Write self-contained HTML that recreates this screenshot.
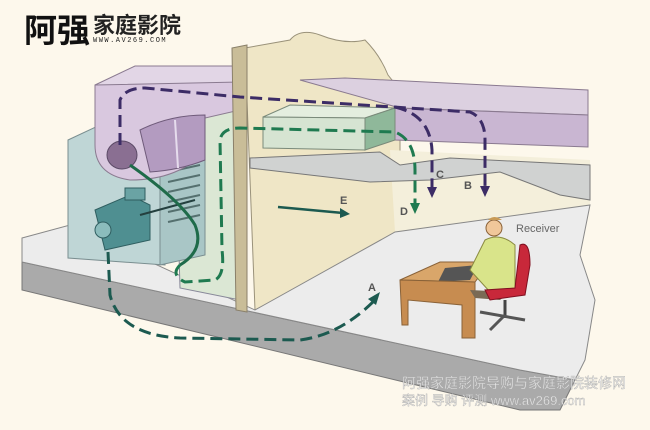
<!DOCTYPE html>
<html><head><meta charset="utf-8"><style>
html,body{margin:0;padding:0;background:#fdf8ec;}
svg{display:block}
</style></head><body>
<svg width="650" height="430" viewBox="0 0 650 430" xmlns="http://www.w3.org/2000/svg" font-family="Liberation Sans, sans-serif">
<rect width="650" height="430" fill="#fdf8ec"/>
<!-- back wall -->
<path d="M245,48 L290,40 Q300,28 320,35 Q345,45 365,40 Q380,55 388,75 L400,90 L400,235 L255,310 Z" fill="#efe6c6" stroke="#9a927a" stroke-width="1"/>
<path d="M390,150 L590,160 L590,205 L395,232 Z" fill="#f4efdb"/>
<!-- floor slab -->
<path d="M22,262 L520,370 L575,380 L560,410 L520,410 L22,290 Z" fill="#aaaaaa" stroke="#777" stroke-width="1"/>
<!-- floor top -->
<path d="M22,238 L70,225 L255,310 L395,232 L590,205 L580,255 L595,300 L585,360 L575,380 L520,370 L22,262 Z" fill="#ececec" stroke="#888" stroke-width="1"/>
<!-- ceiling shelf -->
<path d="M250,158 L380,152 L400,165 L450,158 L590,165 L590,200 L560,195 L500,172 L430,180 L370,182 L250,168 Z" fill="#d0d2d1" stroke="#777" stroke-width="1"/>
<!-- purple duct right -->
<path d="M300,80 L345,78 L588,90 L588,115 L400,108 Z" fill="#dcd0e0" stroke="#8a7a90"/>
<path d="M395,108 L588,115 L588,147 L395,140 Z" fill="#c9b6d2" stroke="#8a7a90"/>
<!-- green box -->
<path d="M263,117 L290,105 L395,108 L365,118 Z" fill="#e4eedf" stroke="#7a8a7a"/>
<path d="M263,117 L365,118 L365,150 L263,148 Z" fill="#d6e4d2" stroke="#7a8a7a"/>
<path d="M365,118 L395,108 L395,140 L365,150 Z" fill="#8fb89a" stroke="#7a8a7a"/>
<!-- green tall panel -->
<path d="M175,120 L240,110 L240,300 L180,288 Z" fill="#dbe7d4" stroke="#889"/>
<!-- blue box -->
<path d="M68,140 L100,125 L165,125 L165,265 L68,258 Z" fill="#bfd6d6" stroke="#7a8e90"/>
<path d="M160,150 L205,140 L205,255 L160,265 Z" fill="#a9c6c6" stroke="#7a8e90"/>
<g stroke="#55706f" stroke-width="2"><line x1="168" y1="172" x2="200" y2="165"/><line x1="168" y1="182" x2="200" y2="175"/><line x1="168" y1="192" x2="200" y2="185"/><line x1="168" y1="202" x2="200" y2="195"/><line x1="168" y1="212" x2="200" y2="205"/><line x1="168" y1="222" x2="200" y2="215"/></g>
<!-- purple duct left -->
<path d="M95,85 L135,66 L240,66 L240,82 L200,85 Z" fill="#e2d6e6" stroke="#8a7a90"/>
<path d="M95,85 L240,82 L240,110 L205,118 L205,150 Q180,180 130,180 Q95,175 95,145 Z" fill="#d9c8df" stroke="#8a7a90"/>
<ellipse cx="122" cy="155" rx="15" ry="14" fill="#8a6f92" stroke="#5b4a66"/>
<path d="M140,130 Q170,115 205,115 L205,160 Q180,170 150,172 Z" fill="#b39bc0" stroke="#6f5b7a"/>
<line x1="175" y1="120" x2="178" y2="168" stroke="#e6dced" stroke-width="2"/>
<!-- column -->
<path d="M232,48 L247,45 L247,312 L236,310 Z" fill="#c9bd98" stroke="#8a806a"/>
<!-- motor -->
<path d="M95,210 L130,195 L150,205 L150,240 L105,250 Z" fill="#4f8f91" stroke="#2f5e60"/>
<rect x="125" y="188" width="20" height="12" fill="#6aa3a4" stroke="#2f5e60"/>
<circle cx="103" cy="230" r="8" fill="#8bbcbc" stroke="#2f5e60"/>
<line x1="140" y1="215" x2="195" y2="200" stroke="#24403f" stroke-width="2"/>
<!-- solid green belt -->
<path d="M130,165 Q180,200 195,225 Q205,250 180,265" fill="none" stroke="#1f6b4a" stroke-width="3"/>
<!-- dashed paths -->
<path d="M180,265 Q170,275 185,282 L215,280 Q225,275 222,250 L220,140 Q222,128 240,128 L395,132 Q415,140 415,170 L415,205" fill="none" stroke="#1f7a50" stroke-width="3" stroke-dasharray="12,6"/>
<polygon points="410,203 420,203 415,214" fill="#1f7a50"/>
<path d="M120,145 L120,100 Q125,88 145,88 L240,97 L470,112 Q485,118 485,140 L485,188" fill="none" stroke="#3c2c66" stroke-width="3" stroke-dasharray="12,6"/>
<polygon points="480,186 490,186 485,197" fill="#3c2c66"/>
<path d="M395,107 Q430,115 432,150 L432,188" fill="none" stroke="#3c2c66" stroke-width="3" stroke-dasharray="12,6"/>
<polygon points="427,187 437,187 432,198" fill="#3c2c66"/>
<path d="M108,252 L110,295 Q120,335 180,338 L300,340 Q340,335 375,300" fill="none" stroke="#1c5a50" stroke-width="3" stroke-dasharray="12,6"/>
<polygon points="368,299 380,292 376,305" fill="#1c5a50"/>
<line x1="278" y1="207" x2="343" y2="213" stroke="#1c5a50" stroke-width="2.5"/>
<polygon points="340,208 350,214 340,218" fill="#1c5a50"/>
<!-- desk -->
<path d="M400,280 L440,262 L490,262 L475,282 Z" fill="#d9a66a" stroke="#8a6238"/>
<path d="M445,268 L478,265 L470,280 L438,282 Z" fill="#555"/>
<path d="M400,280 L475,282 L475,338 L462,338 L462,305 L408,300 L408,325 L402,325 Z" fill="#c78c50" stroke="#8a6238"/>
<!-- person -->
<circle cx="494" cy="228" r="8" fill="#f0c79a" stroke="#8a6238"/>
<path d="M488,220 Q494,214 502,220" fill="#c89a55"/>
<path d="M485,240 Q500,232 515,245 L515,290 L490,292 L470,270 Z" fill="#d9e48a" stroke="#8a8a40"/>
<path d="M470,290 L510,292 L500,300 L475,298 Z" fill="#7a6a55"/>
<!-- chair -->
<path d="M520,245 Q530,240 530,265 L525,295 L490,300 L485,290 L515,288 Z" fill="#c8283a" stroke="#801020"/>
<line x1="505" y1="300" x2="505" y2="318" stroke="#444" stroke-width="3"/>
<line x1="480" y1="312" x2="525" y2="320" stroke="#555" stroke-width="3"/>
<line x1="490" y1="330" x2="505" y2="315" stroke="#555" stroke-width="3"/>
<!-- labels -->
<g font-size="11" fill="#555" font-weight="bold">
<text x="368" y="291">A</text>
<text x="464" y="189">B</text>
<text x="436" y="178">C</text>
<text x="400" y="215">D</text>
<text x="340" y="204">E</text>
</g>
<text x="516" y="232" font-size="11" fill="#666">Receiver</text>
<!-- logo -->
<text x="24" y="42" font-size="33" font-weight="bold" fill="#111" font-family="Liberation Sans, Noto Sans CJK SC, sans-serif">阿强</text>
<text x="93" y="33" font-size="22" font-weight="bold" fill="#222" font-family="Liberation Sans, Noto Sans CJK SC, sans-serif">家庭影院</text>
<text x="93" y="42" font-size="7" fill="#222" letter-spacing="1.5" font-family="Liberation Mono, monospace">WWW.AV269.COM</text>
<!-- watermark -->
<g fill="#ffffff" fill-opacity="0.8" stroke="#aaa" stroke-width="0.4" font-family="Liberation Sans, Noto Sans CJK SC, sans-serif">
<text x="402" y="388" font-size="14">阿强家庭影院导购与家庭影院装修网</text>
<text x="402" y="405" font-size="13">案例 导购 评测  www.av269.com</text>
</g>
</svg>
</body></html>
